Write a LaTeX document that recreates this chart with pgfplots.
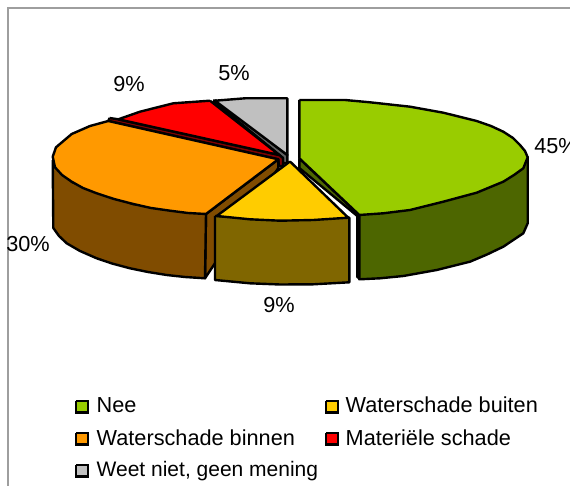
\documentclass[border=0pt]{standalone}
\usepackage{pgfplots}
\pgfplotsset{compat=1.18}
\usepackage{fontspec}
\setmainfont{Liberation Sans}
\definecolor{cGreen}{HTML}{99CC00}
\definecolor{cGreenD}{HTML}{4D6600}
\definecolor{cYellow}{HTML}{FFCC00}
\definecolor{cYellowD}{HTML}{806600}
\definecolor{cOrange}{HTML}{FF9900}
\definecolor{cOrangeD}{HTML}{804C00}
\definecolor{cRed}{HTML}{FF0000}
\definecolor{cRedD}{HTML}{800000}
\definecolor{cGray}{HTML}{C0C0C0}
\definecolor{cGrayD}{HTML}{606060}
\tikzset{
  pie/.style={draw=black, line width=2.4pt, line join=round},
  lab/.style={font=\fontsize{21.7}{26}\selectfont, text=black, inner sep=0pt},
  leg/.style={lab, anchor=base west},
  box/.style={draw=black, line width=2.2pt, line join=miter},
}
\begin{document}
\begin{tikzpicture}
% page is exactly the chart area, 45% runs off the right edge as in the original
\path[use as bounding box] (0,0) rectangle (570pt,486pt);
\clip (0,0) rectangle (570pt,486pt);
\begin{axis}[
  at={(0,0)}, anchor=south west,
  scale only axis, width=570pt, height=486pt,
  xmin=0, xmax=570, ymin=0, ymax=486, y dir=reverse,
  hide axis,
]
% chart frame, only the top and left edge are inside the picture
\addplot[draw=black!38, line width=2pt] coordinates {(7.5,486) (7.5,8.5) (570,8.5)};

% gray slice
\addplot[pie, fill=cGrayD] coordinates {(213,100.5) (216,100.5) (287.3,155) (287.3,163) (283,163) (283,158) (213,100.5)};
\addplot[pie, fill=cGray] coordinates {(215,100.7) (245,98.3) (287.3,98.3) (287.3,155) (215,100.7)};
% red slice
\addplot[pie, fill=cRedD] coordinates {(109.5,118) (118.3,119.3) (279.3,155) (283,158) (283,166) (279,166) (278,159.3) (108.3,121) (109.5,118)};
\addplot[pie, fill=cRed] coordinates {(210,100.7) (279.3,155) (118.3,119.3) (140,111.7) (173.3,103.3) (210,100.7)};
% orange slice
\addplot[pie, fill=cOrangeD] coordinates {(206,214) (278.3,159.3) (278.3,168) (205,278.3) (206,214)};
\addplot[pie, fill=cOrangeD] coordinates {(52.7,160) (53.3,228) (59,236) (66.7,243.3) (80,251) (96.7,258.3) (112,263.5) (130,268.3) (148,272) (166.7,275) (185,277) (205,278.3) (206,214) (133,204) (72,182) (52.7,160)};
\addplot[pie, fill=cOrange] coordinates {(206,214) (278.3,159.3) (108.3,121) (90,126) (71.7,134) (56,147.3) (52.7,156.7) (55,167.3) (62,175) (71.7,181.7) (83,188) (96.7,193.3) (114,199) (133.3,204) (151,208) (170,210.7) (188,213) (206,214)};
% yellow slice
\addplot[pie, fill=cYellowD] coordinates {(215,216) (215,280) (250,283.3) (280,284.5) (313.3,284.3) (349.3,282.3) (349.3,217.7) (215,216)};
\addplot[pie, fill=cYellow] coordinates {(290,161.5) (216.7,216) (250,219.3) (280,220.7) (313.3,220) (348.3,217.7) (290,161.5)};
% green slice
\addplot[pie, fill=cGreenD] coordinates {(299.3,158.3) (359.3,215) (359.3,278.3) (357.3,277) (357.3,216) (299.3,168) (299.3,158.3)};
\addplot[pie, fill=cGreenD] coordinates {(359.3,215) (527.7,157.3) (527.7,223.3) (523.3,233.3) (503.3,246.7) (487,254.5) (470,261.7) (436.7,270) (403.3,276) (380,278.3) (359.3,279.3) (359.3,215)};
\addplot[pie, fill=cGreen] coordinates {(299.3,100) (345,100) (370,102.3) (410,106.7) (443.3,112.7) (476.7,121) (491,126) (503.3,131.7) (513,138) (520,145) (525,151) (527.7,157.3) (523.3,168.3) (514,175) (503.3,181.7) (476.7,192.7) (443.3,201.7) (410,210) (383.3,213.3) (359.3,215) (299.3,158.3) (299.3,100)};

% legend swatches
\addplot[box, fill=cGreen] coordinates {(76,401) (88,401) (88,412.5) (76,412.5) (76,401)};
\addplot[box, fill=cYellow] coordinates {(326,401) (338,401) (338,412.5) (326,412.5) (326,401)};
\addplot[box, fill=cOrange] coordinates {(76,433) (88,433) (88,444.5) (76,444.5) (76,433)};
\addplot[box, fill=cRed] coordinates {(326,433) (338,433) (338,444.5) (326,444.5) (326,433)};
\addplot[box, fill=cGray] coordinates {(76,465) (88,465) (88,476.5) (76,476.5) (76,465)};

% percentage labels
\node[lab] at (axis cs:556,146) {45\%};
\node[lab] at (axis cs:279,305) {9\%};
\node[lab] at (axis cs:28,244) {30\%};
\node[lab] at (axis cs:129,84) {9\%};
\node[lab] at (axis cs:234,73) {5\%};

% legend text
\node[leg] at (axis cs:96.5,412.7) {Nee};
\node[leg] at (axis cs:345.5,412.7) {Waterschade buiten};
\node[leg] at (axis cs:96.5,445) {Waterschade binnen};
\node[leg] at (axis cs:345.5,445) {Materiële schade};
\node[leg, font=\fontsize{21}{26}\selectfont] at (axis cs:96.5,476.5) {Weet niet, geen mening};
\end{axis}
\end{tikzpicture}
\end{document}
